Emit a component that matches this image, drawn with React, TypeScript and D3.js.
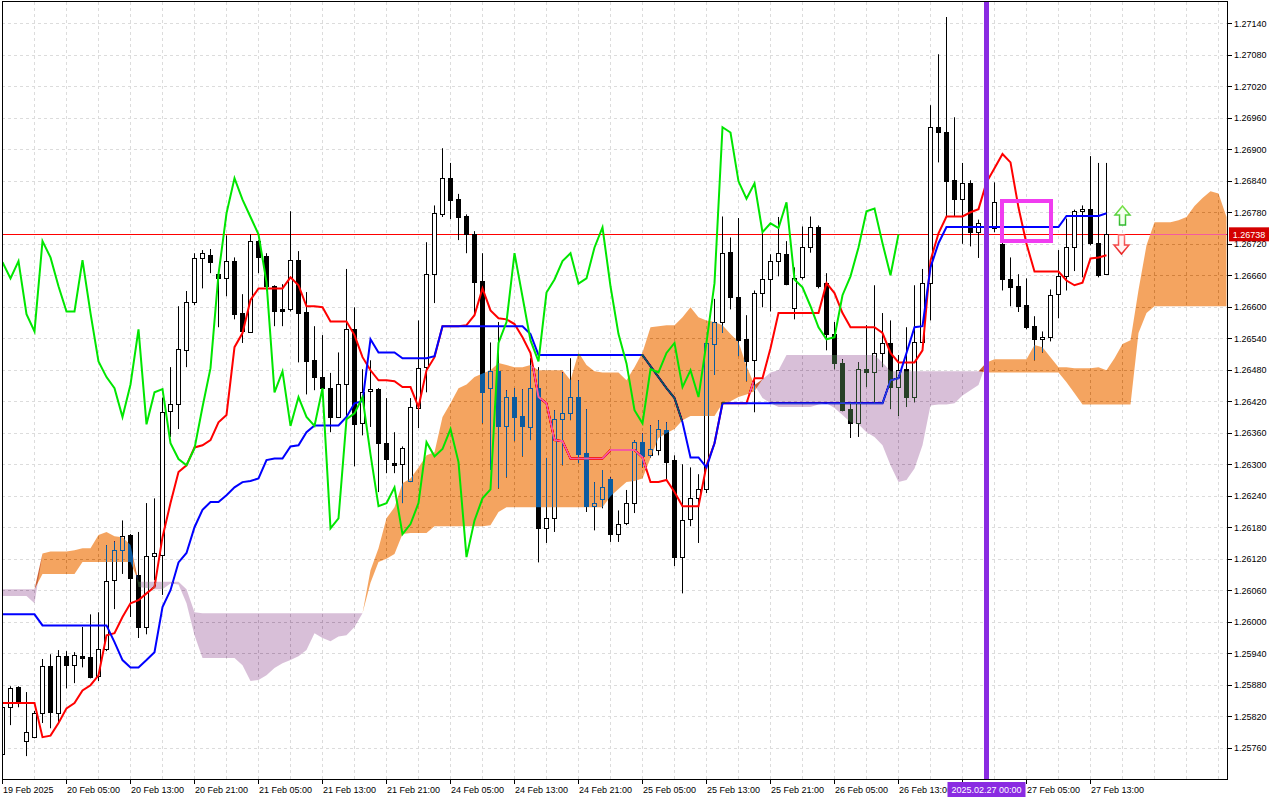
import React, { useEffect } from "react";
import * as d3 from "d3";

// GBPUSD H1 with Ichimoku, 19 Feb 21:00 .. 27 Feb 15:00 (bars)

const open = [
  1.25748, 1.25837, 1.25875, 1.25772, 1.2578, 1.25826, 1.25915, 1.25826, 1.25934, 1.25917,
  1.25934, 1.25932, 1.25896, 1.25948, 1.26079, 1.26136, 1.26165, 1.26089, 1.2599, 1.26125,
  1.26128, 1.26401, 1.26414, 1.26517, 1.26609, 1.26693, 1.26698, 1.26662, 1.26654, 1.26687,
  1.26588, 1.26551, 1.26725, 1.26696, 1.26639, 1.26595, 1.26595, 1.26689, 1.2659, 1.26498,
  1.26466, 1.26445, 1.2639, 1.26452, 1.26557, 1.26378, 1.26439, 1.26443, 1.2634, 1.26302,
  1.263, 1.26268, 1.26407, 1.26485, 1.26662, 1.26776, 1.26845, 1.26806, 1.26772, 1.26738,
  1.26649, 1.26445, 1.26477, 1.26373, 1.26428, 1.26392, 1.26371, 1.26445, 1.26178, 1.26197,
  1.26386, 1.26397, 1.26428, 1.26321, 1.2622, 1.26234, 1.26272, 1.26167, 1.26188, 1.26226,
  1.26342, 1.26317, 1.26327, 1.26365, 1.26308, 1.26123, 1.26195, 1.26235, 1.26252, 1.26529,
  1.26571, 1.26704, 1.26619, 1.26538, 1.26498, 1.26627, 1.26652, 1.26687, 1.267, 1.26597,
  1.26656, 1.26713, 1.26751, 1.26645, 1.26548, 1.26492, 1.26405, 1.26378, 1.26481, 1.26475,
  1.26512, 1.26531, 1.26447, 1.26481, 1.26428, 1.26532, 1.26645, 1.26942, 1.26932, 1.26841,
  1.26806, 1.26835, 1.26742, 1.26759, 1.2675, 1.2672, 1.26652, 1.26639, 1.26603, 1.26563,
  1.26538, 1.26542, 1.26624, 1.26658, 1.26713, 1.26782, 1.26787, 1.26721, 1.26662,
];
const high = [
  1.25851, 1.25877, 1.25877, 1.25866, 1.2583, 1.25929, 1.25938, 1.25946, 1.25944, 1.25942,
  1.2599, 1.26014, 1.26018, 1.26146, 1.26153, 1.26193, 1.26167, 1.26171, 1.26226, 1.26235,
  1.26427, 1.26485, 1.26601, 1.2663, 1.26702, 1.26708, 1.2671, 1.2667, 1.26736, 1.26694,
  1.26624, 1.26738, 1.26727, 1.26702, 1.26641, 1.26643, 1.26782, 1.26706, 1.26628, 1.26563,
  1.26546, 1.26474, 1.26513, 1.26672, 1.26599, 1.26481, 1.26498, 1.26445, 1.26426, 1.26361,
  1.26334, 1.26426, 1.26574, 1.26723, 1.26793, 1.26902, 1.26874, 1.26815, 1.26776, 1.26744,
  1.26702, 1.26532, 1.26571, 1.26441, 1.26445, 1.26443, 1.26502, 1.26485, 1.26312, 1.26403,
  1.26475, 1.26502, 1.2646, 1.26405, 1.26266, 1.26289, 1.26275, 1.26212, 1.26251, 1.26346,
  1.26359, 1.26374, 1.26384, 1.2638, 1.26317, 1.263, 1.26294, 1.26281, 1.26534, 1.26615,
  1.26772, 1.26732, 1.26769, 1.26584, 1.26631, 1.26742, 1.267, 1.26771, 1.26725, 1.26675,
  1.26753, 1.26772, 1.26755, 1.26664, 1.26571, 1.265, 1.26418, 1.26494, 1.26565, 1.26641,
  1.26588, 1.26574, 1.26508, 1.26561, 1.26641, 1.26672, 1.26984, 1.27081, 1.27152, 1.26961,
  1.26874, 1.26841, 1.26766, 1.26803, 1.26837, 1.26734, 1.26694, 1.26662, 1.26654, 1.26582,
  1.26553, 1.26633, 1.26708, 1.26768, 1.26785, 1.26793, 1.26887, 1.26874, 1.26874,
];
const low = [
  1.25744, 1.25803, 1.25837, 1.25744, 1.25778, 1.25807, 1.25797, 1.25807, 1.25873, 1.25883,
  1.25913, 1.25892, 1.25887, 1.25944, 1.26024, 1.26091, 1.26009, 1.25969, 1.25976, 1.26079,
  1.26051, 1.26352, 1.26367, 1.26485, 1.26603, 1.26635, 1.26664, 1.26561, 1.2662, 1.26576,
  1.26531, 1.2655, 1.26664, 1.26631, 1.26563, 1.26563, 1.26591, 1.26494, 1.26433, 1.26441,
  1.26437, 1.26361, 1.26388, 1.26392, 1.26296, 1.26355, 1.26371, 1.26247, 1.26283, 1.26283,
  1.26226, 1.26266, 1.26369, 1.26437, 1.26607, 1.26771, 1.26767, 1.26727, 1.26702, 1.26584,
  1.26378, 1.26289, 1.26254, 1.26275, 1.26344, 1.26315, 1.26346, 1.26113, 1.2615, 1.26171,
  1.26298, 1.26384, 1.26302, 1.26209, 1.26174, 1.26216, 1.26152, 1.26152, 1.26184, 1.26207,
  1.26294, 1.26313, 1.26317, 1.26269, 1.26106, 1.26054, 1.26182, 1.2615, 1.26245, 1.2647,
  1.2655, 1.26595, 1.26506, 1.26458, 1.26399, 1.26599, 1.26591, 1.26658, 1.26641, 1.26576,
  1.26652, 1.26703, 1.26635, 1.26517, 1.26481, 1.26401, 1.2635, 1.26352, 1.26447, 1.26416,
  1.26485, 1.26405, 1.26392, 1.26409, 1.26418, 1.26531, 1.26574, 1.26875, 1.26772, 1.26772,
  1.2672, 1.26715, 1.26693, 1.26736, 1.26742, 1.26631, 1.26601, 1.2659, 1.26557, 1.26498,
  1.26513, 1.26534, 1.26578, 1.26631, 1.26668, 1.26656, 1.26717, 1.26656, 1.26662,
];
const close = [
  1.25837, 1.25873, 1.25847, 1.2579, 1.25826, 1.25915, 1.25828, 1.25934, 1.25917, 1.25936,
  1.2593, 1.25894, 1.25948, 1.26077, 1.26136, 1.26163, 1.26083, 1.2599, 1.26126, 1.2613,
  1.26399, 1.26414, 1.26519, 1.26609, 1.26693, 1.26702, 1.26685, 1.26654, 1.26687, 1.26586,
  1.26553, 1.26725, 1.26694, 1.26639, 1.26591, 1.26591, 1.26689, 1.26588, 1.26496, 1.26466,
  1.26445, 1.2639, 1.26452, 1.26557, 1.26376, 1.26437, 1.26443, 1.2634, 1.2631, 1.26298,
  1.2633, 1.26409, 1.26483, 1.26662, 1.26778, 1.26845, 1.26804, 1.26771, 1.26738, 1.26647,
  1.26437, 1.26477, 1.26373, 1.26428, 1.2639, 1.26373, 1.26445, 1.26178, 1.26197, 1.26386,
  1.26397, 1.26428, 1.26319, 1.2622, 1.26226, 1.26256, 1.26167, 1.26186, 1.26226, 1.26342,
  1.26315, 1.26329, 1.26367, 1.26304, 1.26123, 1.26193, 1.26235, 1.26252, 1.26531, 1.26571,
  1.26702, 1.26619, 1.26536, 1.26496, 1.26627, 1.26652, 1.26687, 1.26702, 1.26644, 1.26654,
  1.26713, 1.26751, 1.26639, 1.26548, 1.26492, 1.26403, 1.26378, 1.26481, 1.26475, 1.26512,
  1.26531, 1.26447, 1.26479, 1.26428, 1.26532, 1.26645, 1.26942, 1.26932, 1.26839, 1.26806,
  1.26835, 1.26742, 1.26759, 1.2675, 1.26799, 1.26652, 1.26637, 1.26601, 1.26561, 1.26538,
  1.26542, 1.26622, 1.26658, 1.26713, 1.26782, 1.26787, 1.26721, 1.2666, 1.26738,
];

// Tenkan-sen (red) and Kijun-sen (blue), one value per bar
const tenkan = [
  1.25845, 1.25845, 1.25845, 1.25845, 1.25845, 1.2578, 1.25783, 1.25807, 1.25835, 1.25845,
  1.25869, 1.25879, 1.25898, 1.25974, 1.25978, 1.26009, 1.26035, 1.26041, 1.26054, 1.26066,
  1.26161, 1.26226, 1.26285, 1.26298, 1.26332, 1.26336, 1.26346, 1.2638, 1.26394, 1.26523,
  1.2655, 1.26613, 1.26635, 1.26635, 1.26635, 1.26635, 1.26656, 1.26641, 1.26601, 1.26601,
  1.26599, 1.26572, 1.26572, 1.26572, 1.26546, 1.26504, 1.26479, 1.2646, 1.2646, 1.26458,
  1.26447, 1.26447, 1.26409, 1.26479, 1.26504, 1.26563, 1.26563, 1.26563, 1.26565, 1.26584,
  1.26635, 1.26593, 1.26578, 1.26576, 1.26567, 1.26542, 1.26512, 1.26428, 1.26416, 1.26346,
  1.26344, 1.26311, 1.26311, 1.26311, 1.26311, 1.26311, 1.26327, 1.26327, 1.26327, 1.26327,
  1.26313, 1.26266, 1.26266, 1.2627, 1.26247, 1.2622, 1.2622, 1.2622, 1.26298, 1.2634,
  1.26416, 1.26416, 1.26416, 1.26416, 1.26464, 1.26464, 1.26521, 1.26588, 1.26588, 1.26588,
  1.26588, 1.26588, 1.26588, 1.26645, 1.26626, 1.26588, 1.26561, 1.26561, 1.26561, 1.26561,
  1.2655, 1.26512, 1.26494, 1.26494, 1.26494, 1.26517, 1.26688, 1.2674, 1.26772, 1.26772,
  1.26772, 1.2678, 1.26786, 1.26837, 1.26864, 1.26891, 1.26875, 1.26789, 1.2672, 1.26667,
  1.26667, 1.26667, 1.26667, 1.2665, 1.26641, 1.26646, 1.26692, 1.26694, 1.26698,
];
const kijun = [
  1.26014, 1.26014, 1.26014, 1.26014, 1.26014, 1.25993, 1.25993, 1.25993, 1.25993, 1.25993,
  1.25993, 1.25993, 1.25993, 1.25993, 1.25961, 1.25927, 1.25913, 1.25913, 1.25927, 1.25942,
  1.26028, 1.2606, 1.26113, 1.26131, 1.2618, 1.26213, 1.26228, 1.26228, 1.26241, 1.26256,
  1.26266, 1.26268, 1.26273, 1.26308, 1.26311, 1.26311, 1.26334, 1.26336, 1.26361, 1.26374,
  1.26374, 1.26374, 1.26374, 1.2639, 1.26416, 1.2642, 1.26538, 1.26513, 1.26513, 1.26513,
  1.26502, 1.26502, 1.26502, 1.26502, 1.26506, 1.26563, 1.26563, 1.26563, 1.26563, 1.26563,
  1.26563, 1.26563, 1.26563, 1.26563, 1.26563, 1.26563, 1.26548, 1.26508, 1.26508, 1.26508,
  1.26508, 1.26508, 1.26508, 1.26508, 1.26508, 1.26508, 1.26508, 1.26508, 1.26508, 1.26508,
  1.26508, 1.26487, 1.26466, 1.26445, 1.26426, 1.2638, 1.26313, 1.26313, 1.26294, 1.2634,
  1.26416, 1.26416, 1.26416, 1.26416, 1.26416, 1.26416, 1.26416, 1.26416, 1.26416, 1.26416,
  1.26416, 1.26416, 1.26416, 1.26416, 1.26416, 1.26416, 1.26416, 1.26416, 1.26416, 1.26416,
  1.26416, 1.2646, 1.26464, 1.26512, 1.26561, 1.26563, 1.26675, 1.26721, 1.26752, 1.26752,
  1.26752, 1.26752, 1.26752, 1.26752, 1.26752, 1.26752, 1.26752, 1.26752, 1.26752, 1.26752,
  1.26752, 1.26752, 1.26752, 1.26773, 1.26773, 1.26773, 1.26773, 1.26773, 1.26778,
];

// Senkou span A / B as plotted (already shifted 26 bars ahead), 154 positions
const spanA = [
  1.26049, 1.26049, 1.26049, 1.26049, 1.26035, 1.2613, 1.26134, 1.26134, 1.26134, 1.26136,
  1.2614, 1.2614, 1.26165, 1.26171, 1.26163, 1.26161, 1.26146, 1.26066, 1.26064, 1.26062,
  1.26062, 1.26073, 1.26071, 1.26035, 1.25974, 1.25931, 1.25931, 1.25931, 1.25931, 1.25931,
  1.25917, 1.25887, 1.25889, 1.25898, 1.25912, 1.25921, 1.25927, 1.25934, 1.25946, 1.25978,
  1.25969, 1.25963, 1.25972, 1.25974, 1.2599, 1.26016, 1.26098, 1.2614, 1.26197, 1.26218,
  1.26264, 1.26273, 1.26294, 1.26317, 1.26323, 1.2639, 1.26416, 1.26445, 1.26452, 1.26466,
  1.26473, 1.26479, 1.26493, 1.26489, 1.26485, 1.26485, 1.26489, 1.26479, 1.26479, 1.26479,
  1.26479, 1.2646, 1.26513, 1.26489, 1.26477, 1.26475, 1.26475, 1.26475, 1.2646, 1.26485,
  1.26513, 1.26561, 1.26563, 1.26565, 1.26565, 1.2658, 1.26599, 1.2658, 1.26574, 1.26571,
  1.26565, 1.26548, 1.26533, 1.26487, 1.26451, 1.26426, 1.26416, 1.26409, 1.26409, 1.26409,
  1.26409, 1.26409, 1.26414, 1.26416, 1.26407, 1.26394, 1.2638, 1.26376, 1.26361, 1.26352,
  1.26336, 1.26298, 1.26266, 1.2627, 1.26292, 1.26336, 1.26412, 1.26414, 1.26414, 1.26416,
  1.26431, 1.26441, 1.26451, 1.26494, 1.265, 1.265, 1.265, 1.265, 1.265, 1.26527,
  1.26523, 1.26504, 1.26485, 1.26485, 1.26483, 1.26483, 1.26483, 1.26485, 1.26479, 1.26502,
  1.26529, 1.26536, 1.26632, 1.26717, 1.26761, 1.26761, 1.26761, 1.26765, 1.26771, 1.26792,
  1.26807, 1.2682, 1.26816, 1.26771,
];
const spanB = [
  1.26062, 1.26062, 1.26062, 1.26062, 1.26062, 1.26091, 1.26091, 1.26091, 1.26091, 1.26091,
  1.26114, 1.26114, 1.26114, 1.26114, 1.26114, 1.26114, 1.26114, 1.26076, 1.26076, 1.26076,
  1.26076, 1.26076, 1.26076, 1.26062, 1.26018, 1.26016, 1.26016, 1.26016, 1.26016, 1.26016,
  1.26016, 1.26016, 1.26016, 1.26016, 1.26016, 1.26016, 1.26016, 1.26016, 1.26016, 1.26016,
  1.26016, 1.26016, 1.26016, 1.26016, 1.26016, 1.26016, 1.26074, 1.26114, 1.2612, 1.26129,
  1.26167, 1.26169, 1.26169, 1.26169, 1.26182, 1.26182, 1.26182, 1.26182, 1.26182, 1.26182,
  1.26182, 1.26184, 1.26209, 1.26218, 1.26218, 1.26218, 1.26218, 1.26218, 1.26218, 1.26218,
  1.26218, 1.26218, 1.26218, 1.26218, 1.26218, 1.26218, 1.26239, 1.26253, 1.26266, 1.26268,
  1.26273, 1.26312, 1.2635, 1.26359, 1.26367, 1.26384, 1.26392, 1.26392, 1.26392, 1.26392,
  1.26416, 1.2642, 1.26428, 1.26433, 1.26439, 1.26462, 1.26475, 1.26479, 1.26508, 1.26508,
  1.26508, 1.26508, 1.26508, 1.26508, 1.26508, 1.26508, 1.26508, 1.26508, 1.26508, 1.26508,
  1.26494, 1.26477, 1.26477, 1.26477, 1.26477, 1.26477, 1.26477, 1.26477, 1.26477, 1.26477,
  1.26477, 1.26477, 1.26477, 1.26475, 1.26475, 1.26475, 1.26475, 1.26475, 1.26475, 1.26475,
  1.26475, 1.26475, 1.26475, 1.26456, 1.26435, 1.26414, 1.26414, 1.26414, 1.26414, 1.26414,
  1.26414, 1.26414, 1.2655, 1.26588, 1.26601, 1.26601, 1.26601, 1.26601, 1.26601, 1.26601,
  1.26601, 1.26601, 1.26601, 1.26601,
];

const priceTicks = [
  1.2576, 1.2582, 1.2588, 1.2594, 1.26, 1.2606, 1.2612, 1.2618, 1.2624, 1.263, 1.2636, 1.2642,
  1.2648, 1.2654, 1.266, 1.2666, 1.2672, 1.2678, 1.2684, 1.269, 1.2696, 1.2702, 1.2708, 1.2714,
];
const timeLabels = [
  "19 Feb 2025", "20 Feb 05:00", "20 Feb 13:00", "20 Feb 21:00", "21 Feb 05:00", "21 Feb 13:00",
  "21 Feb 21:00", "24 Feb 05:00", "24 Feb 13:00", "24 Feb 21:00", "25 Feb 05:00", "25 Feb 13:00",
  "25 Feb 21:00", "26 Feb 05:00", "26 Feb 13:00", "26 Feb 21:00", "27 Feb 05:00", "27 Feb 13:00",
];
const barsPerLabel = 8;
const chikouShift = 26;
const currentPrice = 1.26738;
const markerBar = 123; // 2025.02.27 00:00
const markerLabel = "2025.02.27 00:00";

const W = 1280;
const H = 800;
const left = 2;
const right = 1228;
const top = 2;
const bottom = 779;
const font = "'Liberation Sans', Arial, sans-serif";

export default function App() {
  useEffect(() => {
    document.body.style.margin = "0";
  }, []);

  const x = d3.scaleLinear().domain([0, 1]).range([2.5, 10.5]);
  const y = d3.scaleLinear().domain([1.2576, 1.2714]).range([747.7, 23.3]);

  const line = d3
    .line<number>()
    .x((_, i) => x(i))
    .y((d) => y(d));

  const chikou = close.slice(chikouShift);

  // bullish cloud between B and A, bearish cloud between A and B
  const upCloud = d3
    .area<number>()
    .x((_, i) => x(i))
    .y0((_, i) => y(spanB[i]))
    .y1((_, i) => y(Math.max(spanA[i], spanB[i])));
  const downCloud = d3
    .area<number>()
    .x((_, i) => x(i))
    .y0((_, i) => y(spanA[i]))
    .y1((_, i) => y(Math.max(spanA[i], spanB[i])));

  const vGrid = d3.range(0, 154, 4);
  const snap = (v: number) => Math.round(v) + 0.5;

  const px = x(markerBar);
  const cpY = y(currentPrice);
  const boxL = px - 39;
  const boxR = px + 39;

  // the time label that sits under the marker box is hidden by it, so it is not drawn
  const shownLabels = timeLabels
    .map((t, k) => ({ t, tx: x(k * barsPerLabel) }))
    .filter((d) => d.tx < boxL || d.tx > boxR);

  return (
    <div style={{ position: "absolute", left: 0, top: 0 }}>
      <svg width={W} height={H} style={{ display: "block", background: "#fff" }}>
        <defs>
          <clipPath id="plot">
            <rect x={left} y={top} width={right - left} height={bottom - top} />
          </clipPath>
          <clipPath id="axisText">
            <rect x={0} y={780} width={boxL} height={20} />
            <rect x={boxR} y={780} width={W - boxR} height={20} />
          </clipPath>
          <linearGradient id="upG" x1="0" y1="0" x2="0" y2="1">
            <stop offset="0" stopColor="#7be34a" />
            <stop offset="1" stopColor="#2fb82f" />
          </linearGradient>
          <linearGradient id="dnG" x1="0" y1="0" x2="0" y2="1">
            <stop offset="0" stopColor="#ff7a7a" />
            <stop offset="1" stopColor="#e82020" />
          </linearGradient>
        </defs>
        <rect x={0} y={0} width={W} height={H} fill="#fff" />

        <g clipPath="url(#plot)" style={{ isolation: "isolate" }}>
          <rect x={left} y={top} width={right - left} height={bottom - top} fill="#fff" />
          {/* grid */}
          {priceTicks.map((p) => (
            <line
              key={"h" + p}
              x1={left}
              x2={right}
              y1={snap(y(p))}
              y2={snap(y(p))}
              stroke="#dcdcdc"
              strokeDasharray="3,3"
            />
          ))}
          {vGrid.map((i) => (
            <line
              key={"v" + i}
              x1={x(i)}
              x2={x(i)}
              y1={top}
              y2={bottom}
              stroke="#dcdcdc"
              strokeDasharray="3,3"
            />
          ))}

          <line x1={left} x2={right} y1={snap(cpY)} y2={snap(cpY)} stroke="#ff0000" strokeWidth={1} />

          {/* candles */}
          {close.map((c, i) => {
            const o = open[i];
            const cx = x(i);
            const bull = c >= o;
            const yTop = snap(y(Math.max(o, c)));
            const yBot = Math.max(snap(y(Math.min(o, c))), yTop + 1);
            return (
              <g key={"c" + i}>
                <line x1={cx} x2={cx} y1={y(high[i])} y2={y(low[i])} stroke="#000" strokeWidth={1} />
                <rect
                  x={cx - 2}
                  y={yTop}
                  width={4}
                  height={yBot - yTop}
                  fill={bull ? "#fff" : "#000"}
                  stroke="#000"
                  strokeWidth={1}
                />
              </g>
            );
          })}

          <path d={line(tenkan) ?? ""} fill="none" stroke="#ff0000" strokeWidth={2} />
          <path d={line(kijun) ?? ""} fill="none" stroke="#0000ff" strokeWidth={2} />

          {/* cloud drawn as difference, the way the terminal inverts what lies under it */}
          <path d={upCloud(spanA) ?? ""} fill="#0b5b9f" style={{ mixBlendMode: "difference" }} />
          <path d={downCloud(spanA) ?? ""} fill="#274027" style={{ mixBlendMode: "difference" }} />
        </g>

        <g clipPath="url(#plot)">
          <path d={line(chikou) ?? ""} fill="none" stroke="#00e600" strokeWidth={2} />

          <line x1={px} x2={px} y1={top} y2={bottom} stroke="#8a2be2" strokeWidth={5} />

          <rect x={1002} y={201} width={49} height={40} fill="none" stroke="#f03cf0" strokeWidth={4} />

          <path
            d="M1122.5,206 L1130,215 L1125.5,215 L1125.5,225 L1119.5,225 L1119.5,215 L1115,215 Z"
            fill="#f4fff0"
            stroke="url(#upG)"
            strokeWidth={1.5}
          />
          <path
            d="M1121.5,254 L1129,245 L1124.5,245 L1124.5,235 L1118.5,235 L1118.5,245 L1114,245 Z"
            fill="#fff4f4"
            stroke="url(#dnG)"
            strokeWidth={1.5}
          />
        </g>

        {/* frame */}
        <rect x={2.5} y={1.5} width={1225} height={778} fill="none" stroke="#000" strokeWidth={1} />

        {/* price axis */}
        {priceTicks.map((p) => (
          <g key={"pt" + p}>
            <line x1={1228} x2={1232} y1={snap(y(p))} y2={snap(y(p))} stroke="#000" />
            <text x={1234} y={y(p) + 3.5} fontSize={9} fontFamily={font} fill="#000">
              {p.toFixed(5)}
            </text>
          </g>
        ))}
        <rect x={1229} y={cpY - 7} width={40} height={14} fill="#d40000" />
        <text x={1249} y={cpY + 3.5} fontSize={9} fontFamily={font} fill="#fff" textAnchor="middle">
          {currentPrice.toFixed(5)}
        </text>

        {/* time axis */}
        {timeLabels.map((t, k) => {
          const tx = x(k * barsPerLabel);
          return <line key={"tk" + t} x1={tx} x2={tx} y1={779} y2={784} stroke="#000" />;
        })}
        <g clipPath="url(#axisText)">
          {shownLabels.map((d) => (
            <text key={"tl" + d.t} x={d.tx + 0.5} y={793} fontSize={9} fontFamily={font} fill="#000">
              {d.t}
            </text>
          ))}
        </g>
        <rect x={boxL} y={782} width={boxR - boxL} height={15} fill="#8a2be2" />
        <text x={px} y={793} fontSize={9} fontFamily={font} fill="#fff" textAnchor="middle">
          {markerLabel}
        </text>
      </svg>
    </div>
  );
}
